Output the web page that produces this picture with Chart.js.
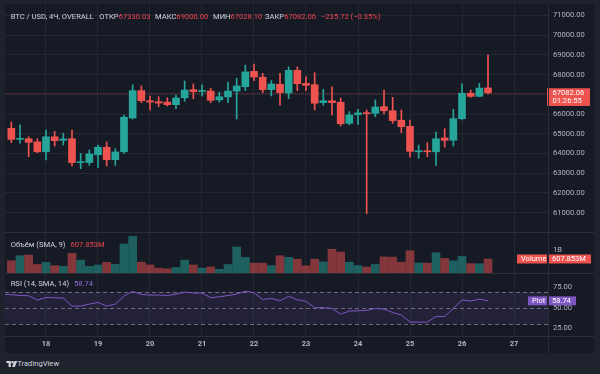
<!DOCTYPE html>
<html><head><meta charset="utf-8">
<script src="https://cdn.jsdelivr.net/npm/chart.js@4.4.1/dist/chart.umd.min.js"></script>
<style>
html,body{margin:0;padding:0;background:#1e222d;width:600px;height:374px;overflow:hidden;font-family:Roboto,'Liberation Sans',sans-serif;}
#frame{position:absolute;left:5px;top:4px;width:589px;height:349px;background:#161a25;}
canvas{position:absolute;left:0;}
.sep{position:absolute;background:#2a2e39;}
.t{position:absolute;font-size:7.6px;line-height:9px;white-space:nowrap;color:#d1d4dc;}
.r{color:#f0454f;}
.p{color:#8e6bd8;}
</style></head>
<body>
<div id="frame">
  <canvas id="cMain" width="589" height="228" style="top:0"></canvas>
  <canvas id="cVol" width="589" height="41" style="top:228px"></canvas>
  <canvas id="cRsi" width="589" height="80" style="top:269px"></canvas>
  <div class="sep" style="left:0;top:228px;width:589px;height:1px"></div>
  <div class="sep" style="left:0;top:269px;width:589px;height:1px"></div>
  <div class="sep" style="left:0;top:332px;width:589px;height:1px"></div>
  <div class="sep" style="left:543px;top:0;width:1px;height:349px"></div>
  <div class="t" style="left:5.7px;top:7.5px">BTC / USD, 4Ч, OVERALL</div>
  <div class="t" style="left:94.3px;top:7.5px">ОТКР<span class="r">67330.03</span></div>
  <div class="t" style="left:150px;top:7.5px">МАКС<span class="r">69000.00</span></div>
  <div class="t" style="left:208px;top:7.5px">МИН<span class="r">67028.10</span></div>
  <div class="t" style="left:260px;top:7.5px">ЗАКР<span class="r">67082.06</span></div>
  <div class="t r" style="left:316px;top:7.5px">−235.72 (−0.35%)</div>
  <div class="t" style="left:5.7px;top:235.5px">Объём (SMA, 9)<span class="r" style="margin-left:5px">607.853M</span></div>
  <div class="t" style="left:5.7px;top:274.8px">RSI (14, SMA, 14)<span class="p" style="margin-left:5px">58.74</span></div>
</div>
<svg style="position:absolute;left:5.7px;top:360.5px" width="11.5" height="6" viewBox="0 0 36 20"><path d="M0 0h15v20H7.5V7H0z" fill="#d1d4dc"/><circle cx="20.5" cy="4" r="4" fill="#d1d4dc"/><path d="M27 0h9l-8 20h-9z" fill="#d1d4dc"/></svg>
<div class="t" style="left:17.3px;top:359px;font-size:7.6px">TradingView</div>
<script>
// ---- data (4h candles, x = hours since 17th 00:00) ----
const times = [8,12,16,20,24,28,32,36,40,44,48,52,56,60,64,68,72,76,80,84,88,92,96,100,104,108,112,116,120,124,128,132,136,140,144,148,152,156,160,164,168,172,176,180,184,188,192,196,200,204,208,212,216,220,224,228];
const open  = [65280,64720,64750,64590,64090,64850,64670,64750,63540,63540,63940,64320,63690,64090,65800,67190,66680,66630,66610,66480,66830,67240,67150,67170,66720,66870,67170,67390,68170,67870,67240,67510,67070,68220,67560,67490,66580,66680,66600,65530,65970,66070,66040,66380,66170,65690,65380,64090,64140,64090,64790,64670,65770,67060,66900,67330.03];
const high  = [65600,65460,64850,64750,65190,65130,65030,65190,64010,64180,64430,64590,64250,65950,67490,67430,66920,66880,66830,66950,67680,67530,67480,67310,67120,67630,67820,68490,68540,68070,67700,68070,68400,68400,67900,68100,67260,67390,66820,66120,66240,66210,66720,67220,66850,66210,65700,64430,64550,65090,65260,66240,67530,67220,67560,69000];
const low   = [64550,64520,63840,64040,63670,64380,64430,63370,63230,63400,63300,63370,63400,64010,65750,66580,66210,66380,66410,66280,66650,66780,66920,66580,66610,66580,65750,67190,67700,67090,66920,66450,66780,67190,67190,66210,66450,65960,65400,65460,65480,60950,65870,66010,65530,65060,63810,63760,63840,63400,64320,64380,65700,66850,66880,67028.10];
const close = [64720,64740,64570,64090,64850,64650,64740,63540,63570,63980,64320,63690,64080,65840,67190,66680,66610,66560,66480,66820,67220,67140,67190,66700,66880,67170,67430,68140,67880,67240,67530,67090,68220,67540,67460,66550,66680,66580,65510,65960,66060,66020,66360,66170,65670,65360,64110,64140,64090,64750,64670,65770,67060,66900,67317.78,67082.06];
const volume = [530,750,780,370,460,320,290,850,560,290,350,460,380,1260,1590,470,350,210,180,240,560,350,210,260,160,370,1130,680,430,430,320,750,680,600,310,600,480,1030,910,470,320,260,370,700,690,470,970,440,430,880,630,530,720,410,400,607.853]; // millions
const rsiPrev = 67.0;
const rsi = [66.2,65.3,65.0,59.7,62.9,62.5,62.1,52.3,52.3,54.8,56.8,52.3,54.8,64.6,70.3,66.6,65.8,65.8,65.3,66.9,69.5,68.3,68.3,62.5,63.7,65.3,66.9,70.7,68.7,60.5,61.7,58.8,64.2,60.1,58.0,50.2,50.6,49.4,42.5,46.2,46.6,47.0,49.4,48.6,44.5,41.3,32.7,32.7,32.7,39.6,39.6,49.4,59.7,58.5,60.9,58.74];
const dayTicks = [24,48,72,96,120,144,168,192,216,240];
const dayLabels = ['18','19','20','21','22','23','24','25','26','27'];
const priceTicks = [61000,62000,63000,64000,65000,66000,67000,68000,69000,70000,71000];
const volTicks = [1000];
const volTickLabels = ['1B'];
const rsiTicks = [25,50,75];
const rsiBands = [70,50,30];
const countdown = '01:26:55';

// ---- style ----
const UP = '#26a69a', DOWN = '#ef5350';
const UPV = 'rgba(38,166,154,0.5)', DOWNV = 'rgba(239,83,80,0.5)';
const GRID = 'rgba(42,46,57,0.65)';
const TXT = '#b2b5be';
const FONT = {family:'Roboto', size:7.6};
const X_MIN = 5.08, X_MAX = 255.69;
const last = close.length - 1;
const isUp = i => close[i] >= open[i];
const cCol = times.map((t,i)=> isUp(i) ? UP : DOWN);
const vCol = times.map((t,i)=> isUp(i) ? UPV : DOWNV);

function xScale(showLabels){
  return {
    type:'linear', min:X_MIN, max:X_MAX, offset:false,
    afterBuildTicks: s => { s.ticks = dayTicks.map(v=>({value:v})); },
    afterFit: s => { s.height = showLabels ? 17 : 0; s.paddingLeft = 0; s.paddingRight = 0; },
    grid:{color:GRID, drawTicks:false, offset:false, lineWidth:1},
    border:{display:false},
    ticks:{display:showLabels, color:TXT, font:{family:'Roboto', size:7.5, weight:'bold'}, padding:4, maxRotation:0, autoSkip:false,
      callback: v => { const k = dayTicks.indexOf(v); return k>=0 ? dayLabels[k] : ''; }}
  };
}
function yScale(min, max, ticks, fmt, grid){
  return {
    position:'right', min, max,
    afterBuildTicks: s => { s.ticks = ticks.map(v=>({value:v})); },
    afterFit: s => { s.width = 46; s.paddingTop = 0; s.paddingBottom = 0; },
    grid:{display:grid, color:GRID, drawTicks:false},
    border:{display:false},
    ticks:{color:TXT, font:FONT, padding:5, callback: fmt}
  };
}
const baseOpts = {responsive:false, maintainAspectRatio:false, animation:false, events:[],
  layout:{padding:0}, plugins:{legend:{display:false}, tooltip:{enabled:false}}};

function tagBox(ctx, x, y, w, text, bg){
  ctx.fillStyle = bg; ctx.fillRect(x, y-4.5, w, 9);
  ctx.fillStyle = '#ffffff'; ctx.font = '7.5px Roboto'; ctx.textBaseline='middle'; ctx.textAlign='left';
  ctx.fillText(text, x+4, y+0.3);
}

// ---- main price chart ----
new Chart(document.getElementById('cMain'), {
  data:{datasets:[
    {type:'bar', data: times.map((t,i)=>({x:t, y:[low[i], high[i]]})), backgroundColor:cCol, barThickness:1, grouped:false, order:2},
    {type:'bar', data: times.map((t,i)=>({x:t, y:[open[i], close[i]]})), backgroundColor:cCol, barThickness:7, minBarLength:1, grouped:false, order:1}
  ]},
  options:{...baseOpts,
    scales:{ x:xScale(false), y:yScale(60019, 71586, priceTicks, v=>v.toFixed(2), true) }},
  plugins:[{id:'priceLine',
    beforeDatasetsDraw(chart){
      const {ctx, chartArea:a, scales:{y}} = chart;
      const py = Math.round(y.getPixelForValue(close[last]))+0.5;
      ctx.save(); ctx.strokeStyle='#7a3037'; ctx.lineWidth=1; ctx.setLineDash([1,1]);
      ctx.beginPath(); ctx.moveTo(a.left,py); ctx.lineTo(a.right,py); ctx.stroke(); ctx.restore();
    },
    afterDraw(chart){
      const {ctx, chartArea:a, scales:{y}} = chart;
      const py = y.getPixelForValue(close[last]);
      ctx.save();
      ctx.fillStyle = '#ef5350'; ctx.fillRect(a.right-1, py-4.5, 43, 17.7);
      ctx.fillStyle = '#ffffff'; ctx.font='7.6px Roboto'; ctx.textBaseline='middle'; ctx.textAlign='left';
      ctx.fillText(close[last].toFixed(2), a.right+4.5, py+0.2);
      ctx.fillText(countdown, a.right+4.5, py+8.7);
      ctx.restore();
    }}]
});

// ---- volume chart ----
new Chart(document.getElementById('cVol'), {
  data:{datasets:[
    {type:'bar', data: times.map((t,i)=>({x:t, y:volume[i]})), backgroundColor:vCol, barThickness:8, grouped:false}
  ]},
  options:{...baseOpts,
    scales:{ x:xScale(false), y:yScale(0, 1780, volTicks, v=>volTickLabels[volTicks.indexOf(v)] || '', false) }},
  plugins:[{id:'volTag', afterDraw(chart){
    const {ctx, chartArea:a, scales:{y}} = chart;
    const py = y.getPixelForValue(volume[last]);
    ctx.save();
    tagBox(ctx, a.right-31, py, 30, 'Volume', '#ef5350');
    tagBox(ctx, a.right, py, 43, volume[last].toFixed(3)+'M', '#ef5350');
    ctx.restore();
  }}]
});

// ---- RSI chart ----
new Chart(document.getElementById('cRsi'), {
  data:{datasets:[
    {type:'line', data: [{x:times[0]-4, y:rsiPrev}].concat(times.map((t,i)=>({x:t, y:rsi[i]}))), borderColor:'#7e57c2', borderWidth:1, pointRadius:0, tension:0, fill:false}
  ]},
  options:{...baseOpts,
    scales:{ x:xScale(true), y:yScale(15.6, 92.9, rsiTicks, v=>v.toFixed(2), false) }},
  plugins:[{id:'rsiBand',
    beforeDatasetsDraw(chart){
      const {ctx, chartArea:a, scales:{y}} = chart;
      const top = y.getPixelForValue(rsiBands[0]), bot = y.getPixelForValue(rsiBands[2]);
      ctx.save();
      ctx.fillStyle='rgba(126,87,194,0.12)'; ctx.fillRect(a.left, top, a.right-a.left, bot-top);
      ctx.strokeStyle='rgba(120,123,134,0.85)'; ctx.lineWidth=1; ctx.setLineDash([4,3]);
      rsiBands.forEach(v=>{ const py=Math.round(y.getPixelForValue(v))+0.5; ctx.beginPath(); ctx.moveTo(a.left,py); ctx.lineTo(a.right,py); ctx.stroke(); });
      ctx.restore();
    },
    afterDraw(chart){
      const {ctx, chartArea:a, scales:{y}} = chart;
      const py = y.getPixelForValue(rsi[last]);
      ctx.save();
      tagBox(ctx, a.right-20, py, 19, 'Plot', '#7e57c2');
      tagBox(ctx, a.right, py, 28, rsi[last].toFixed(2), '#7e57c2');
      ctx.restore();
    }}]
});
</script>
</body></html>
